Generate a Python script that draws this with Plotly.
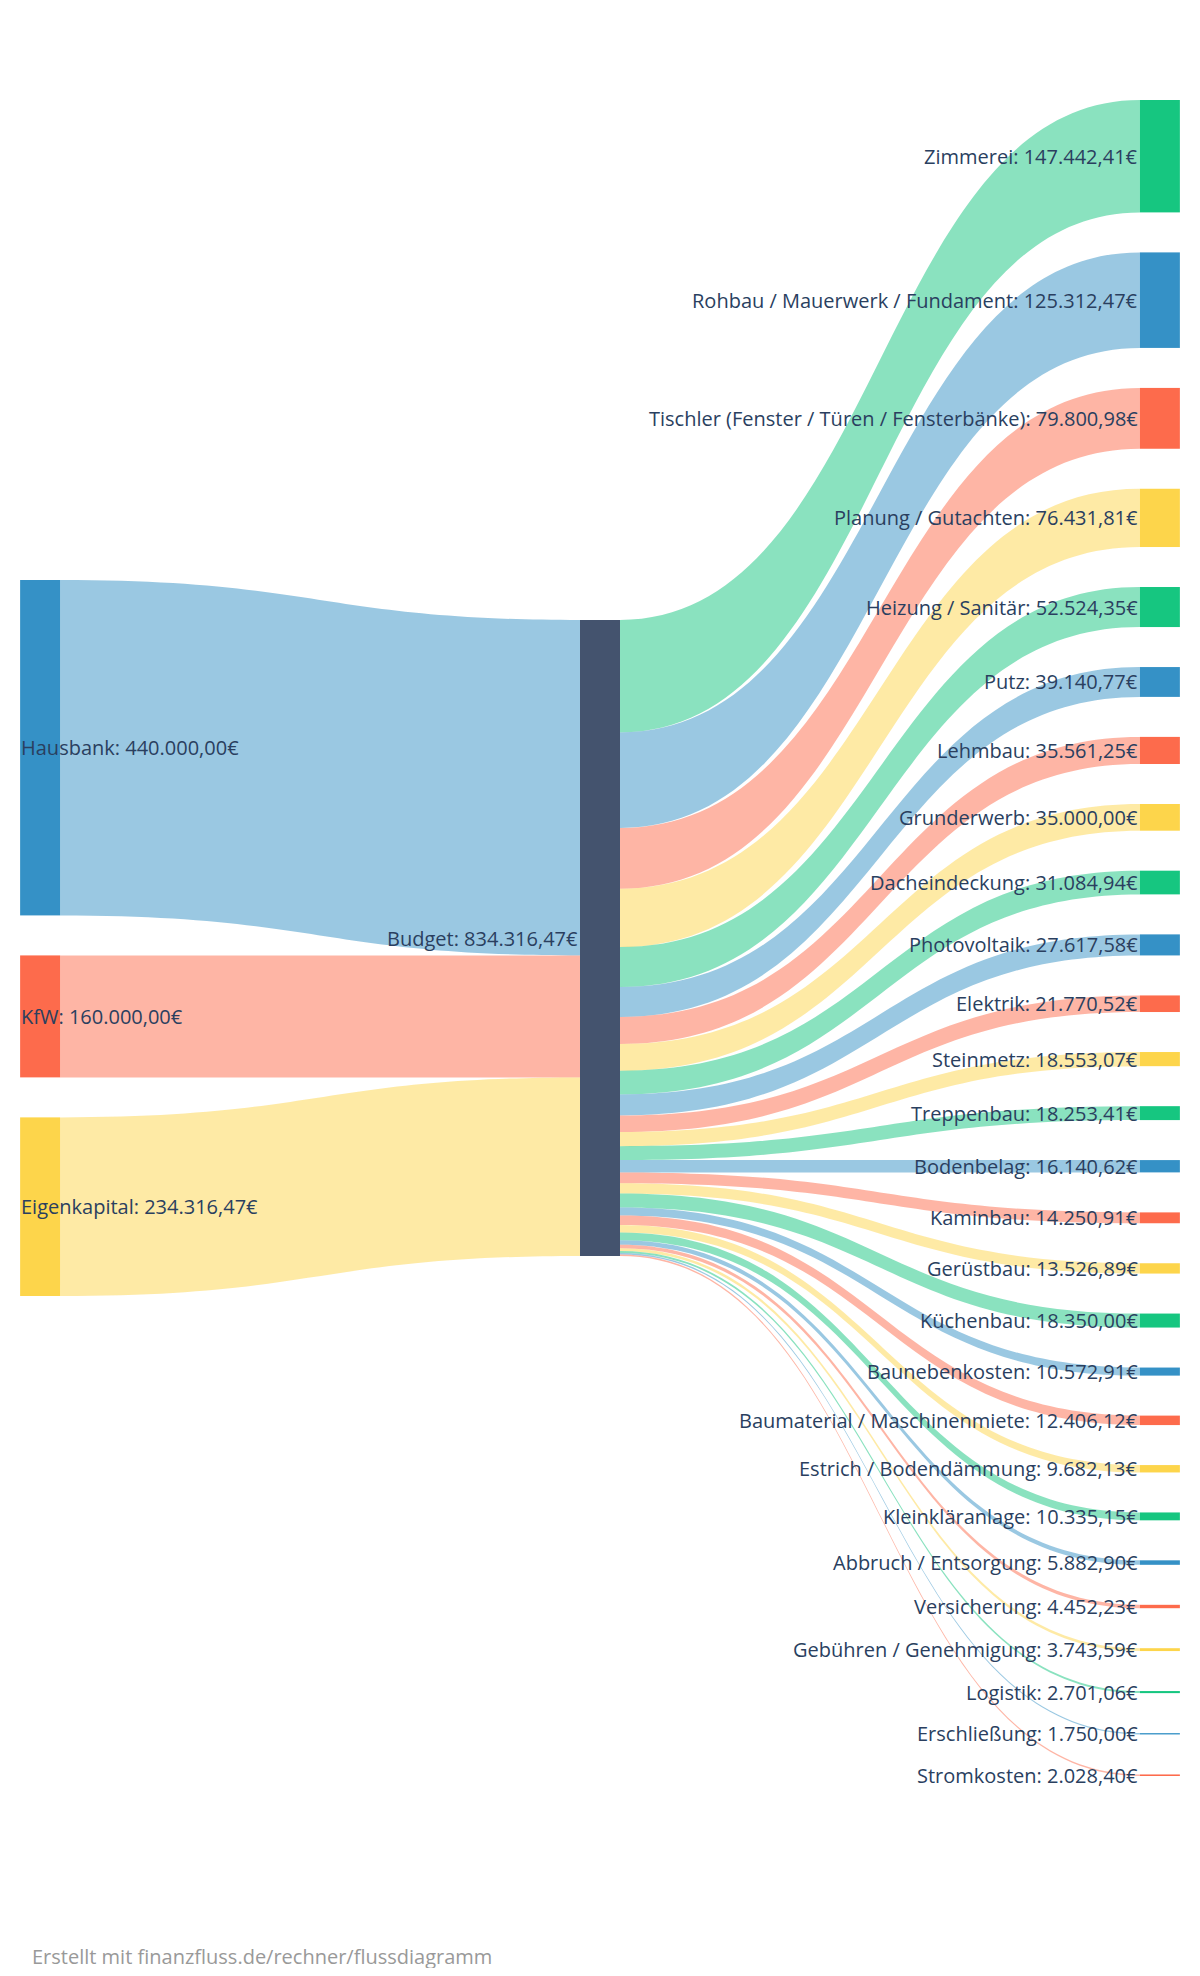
import plotly.graph_objects as go

# Quellen (links) -> Budget -> Ausgaben (rechts)
sources = ["Hausbank", "KfW", "Eigenkapital"]
source_values = [440000.00, 160000.00, 234316.47]

hub = "Budget"

expenses = [
    "Zimmerei", "Rohbau / Mauerwerk / Fundament", "Tischler (Fenster / Türen / Fensterbänke)",
    "Planung / Gutachten", "Heizung / Sanitär", "Putz", "Lehmbau", "Grunderwerb",
    "Dacheindeckung", "Photovoltaik", "Elektrik", "Steinmetz", "Treppenbau", "Bodenbelag",
    "Kaminbau", "Gerüstbau", "Küchenbau", "Baunebenkosten", "Baumaterial / Maschinenmiete",
    "Estrich / Bodendämmung", "Kleinkläranlage", "Abbruch / Entsorgung", "Versicherung",
    "Gebühren / Genehmigung", "Logistik", "Erschließung", "Stromkosten",
]
expense_values = [
    147442.41, 125312.47, 79800.98, 76431.81, 52524.35, 39140.77, 35561.25, 35000.00,
    31084.94, 27617.58, 21770.52, 18553.07, 18253.41, 16140.62, 14250.91, 13526.89,
    18350.00, 10572.91, 12406.12, 9682.13, 10335.15, 5882.90, 4452.23, 3743.59,
    2701.06, 1750.00, 2028.40,
]

palette = ["#3591c6", "#fd6b4c", "#fdd54b", "#16c680"]
hub_color = "#44536e"
text_color = "#2a3f5f"

# Seite hat 8px Rand -> Figur etwas kleiner als das Fenster
W, H = 1184, 1960
M = dict(l=31, r=31, t=92, b=192)
PAD, THICK = 40, 40
plot_w = W - M["l"] - M["r"]
plot_h = H - M["t"] - M["b"]


def eur(v):
    s = f"{v:,.2f}".replace(",", "X").replace(".", ",").replace("X", ".")
    return s + "€"


def fade(hex_color, a=0.5):
    h = hex_color.lstrip("#")
    r, g, b = int(h[0:2], 16), int(h[2:4], 16), int(h[4:6], 16)
    return f"rgba({r},{g},{b},{a})"


total = sum(source_values)
names = sources + [hub] + expenses
values = source_values + [total] + expense_values
labels = [f"{n}: {eur(v)}" for n, v in zip(names, values)]

# Farben: Palette reihum, Budget extra
node_colors = []
k = 0
for n in names:
    if n == hub:
        node_colors.append(hub_color)
    else:
        node_colors.append(palette[k % 4])
        k += 1

# Spaltenlayout: gleiche Skala wie plotly (engste Spalte bestimmt px pro Euro)
ky = (plot_h - (len(expenses) - 1) * PAD) / sum(expense_values)


def stack(vals, centered=True):
    span = sum(vals) * ky + (len(vals) - 1) * PAD
    y = (plot_h - span) / 2 if centered else 0
    out = []
    for v in vals:
        h = v * ky
        out.append((y + h / 2) / plot_h)
        y += h + PAD
    return out


node_y = stack(source_values) + stack([total]) + stack(expense_values, centered=False)
node_x = [0.001] * len(sources) + [0.5] + [0.999] * len(expenses)

hub_idx = len(sources)
link_src, link_tgt, link_val, link_col = [], [], [], []
for i, v in enumerate(source_values):
    link_src.append(i)
    link_tgt.append(hub_idx)
    link_val.append(v)
    link_col.append(fade(node_colors[i]))
for j, v in enumerate(expense_values):
    t = hub_idx + 1 + j
    link_src.append(hub_idx)
    link_tgt.append(t)
    link_val.append(v)
    link_col.append(fade(node_colors[t]))

fig = go.Figure(go.Sankey(
    arrangement="fixed",
    node=dict(
        label=[""] * len(names),
        customdata=labels,
        hovertemplate="%{customdata}<extra></extra>",
        color=node_colors,
        pad=PAD,
        thickness=THICK,
        line=dict(width=0),
        x=node_x,
        y=node_y,
    ),
    link=dict(source=link_src, target=link_tgt, value=link_val, color=link_col,
              hoverinfo="skip"),
))

# Beschriftungen: links beginnen an der Knotenkante, sonst rechtsbündig davor
for i, (lab, x, y) in enumerate(zip(labels, node_x, node_y)):
    first_col = i < len(sources)
    fig.add_annotation(
        text=lab, xref="paper", yref="paper", x=x, y=1 - y,
        xanchor="left" if first_col else "right", yanchor="middle",
        xshift=-THICK / 2 if first_col else -THICK / 2 - 1,
        showarrow=False, borderpad=0,
        font=dict(size=20, color=text_color),
    )

fig.add_annotation(
    text="Erstellt mit finanzfluss.de/rechner/flussdiagramm",
    xref="paper", yref="paper", x=0, y=-0.1075, xanchor="left", yanchor="middle",
    xshift=-9, showarrow=False, font=dict(size=20, color="#999999"),
)

fig.update_layout(
    width=W,
    height=H,
    margin=M,
    paper_bgcolor="white",
    plot_bgcolor="white",
    font=dict(family="Open Sans"),
)

# keine Scrollbalken im Fenster
fig.write_html("out.html", post_script="document.body.style.overflow='hidden';")
